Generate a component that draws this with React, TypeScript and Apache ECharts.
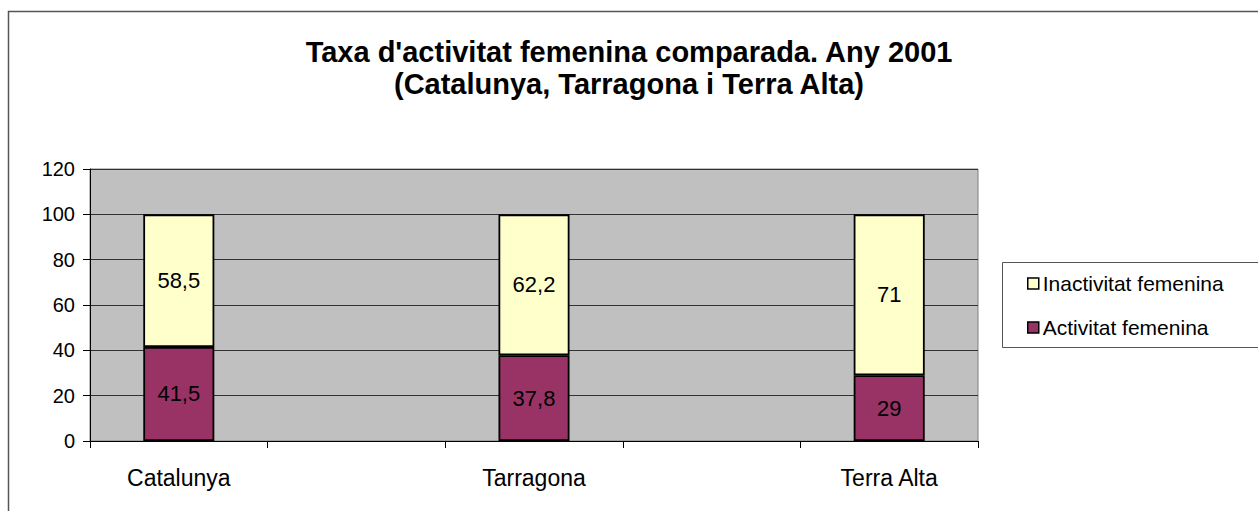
import React, { useEffect, useRef } from "react";
import * as echarts from "echarts";

const categories = ["Catalunya", "", "Tarragona", "", "Terra Alta"];
const activitat = [41.5, null, 37.8, null, 29];
const inactivitat = [58.5, null, 62.2, null, 71];
const yTicks = { min: 0, max: 120, interval: 20 };
const titleLines = ["Taxa d'activitat femenina comparada. Any 2001", "(Catalunya, Tarragona i Terra Alta)"];
const seriesNames = ["Activitat femenina", "Inactivitat femenina"];

const FONT = "'Liberation Sans', Arial, sans-serif";

export default function App() {
  const ref = useRef<HTMLDivElement>(null);
  useEffect(() => {
    document.body.style.margin = "0";
    if (!ref.current) return;
    const chart = echarts.init(ref.current, undefined, { renderer: "svg" });
    const labelFmt = (p: any) => String(p.value).replace(".", ",");
    chart.setOption({
      animation: false,
      textStyle: { fontFamily: FONT },
      title: {
        text: titleLines.join("\n"),
        left: "center",
        top: 36,
        padding: 0,
        textStyle: { fontFamily: FONT, fontSize: 29, fontWeight: "bold", color: "#000", lineHeight: 32 },
      },
      graphic: [
        {
          type: "rect",
          shape: { x: 8.5, y: 11.5, width: 1300, height: 600 },
          style: { fill: "none", stroke: "#555", lineWidth: 1.5 },
          silent: true,
        },
        {
          type: "rect",
          shape: { x: 1002.5, y: 262.5, width: 300, height: 85 },
          style: { fill: "#fff", stroke: "#555", lineWidth: 1 },
          silent: true,
        },
      ],
      legend: {
        orient: "vertical",
        left: 1027,
        top: 273,
        padding: 0,
        itemWidth: 11,
        itemHeight: 11,
        itemGap: 23,
        icon: "rect",
        data: [seriesNames[1], seriesNames[0]],
        itemStyle: { borderColor: "#000", borderWidth: 1.5 },
        textStyle: { fontFamily: FONT, fontSize: 21, color: "#000", padding: [0, 0, 0, -1] },
      },
      grid: {
        left: 90,
        top: 169,
        right: 280,
        bottom: 70,
        show: true,
        backgroundColor: "#C0C0C0",
        borderColor: "#808080",
        borderWidth: 1,
      },
      xAxis: {
        type: "category",
        data: categories,
        axisLine: { lineStyle: { color: "#000", width: 1 } },
        axisTick: { show: true, length: 7, lineStyle: { color: "#000" } },
        axisLabel: { interval: 0, fontFamily: FONT, fontSize: 23, color: "#000", margin: 25 },
      },
      yAxis: {
        type: "value",
        min: yTicks.min,
        max: yTicks.max,
        interval: yTicks.interval,
        axisLine: { show: true, lineStyle: { color: "#000", width: 1 } },
        axisTick: { show: true, length: 7, lineStyle: { color: "#000" } },
        axisLabel: { fontFamily: FONT, fontSize: 20, color: "#000", margin: 15 },
        splitLine: { show: true, lineStyle: { color: "#333", width: 1 } },
      },
      series: [
        {
          name: seriesNames[0],
          type: "bar",
          stack: "total",
          barWidth: "40%",
          data: activitat,
          itemStyle: { color: "#993366", borderColor: "#000", borderWidth: 1.8 },
          label: { show: true, position: "inside", fontFamily: FONT, fontSize: 22, color: "#000", formatter: labelFmt },
        },
        {
          name: seriesNames[1],
          type: "bar",
          stack: "total",
          barWidth: "40%",
          data: inactivitat,
          itemStyle: { color: "#FFFFCC", borderColor: "#000", borderWidth: 1.8 },
          label: { show: true, position: "inside", fontFamily: FONT, fontSize: 22, color: "#000", formatter: labelFmt },
        },
      ],
    });
    return () => chart.dispose();
  }, []);
  return <div ref={ref} style={{ width: 1258, height: 511 }} />;
}
